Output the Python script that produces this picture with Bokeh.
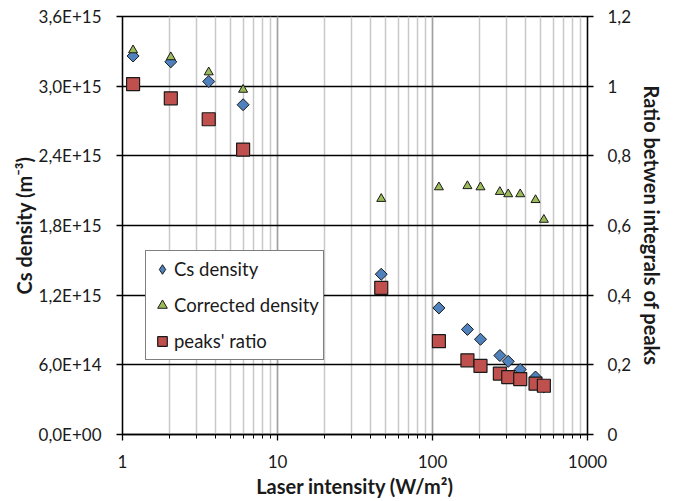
from bokeh.plotting import figure
from bokeh.models import (LinearAxis, Range1d, FixedTicker, LogTicker, Legend, LegendItem,
                          ColumnDataSource)
from bokeh.embed import file_html
from bokeh.resources import INLINE
import numpy as np

# ---- data ----
intensity = [1.17, 2.05, 3.6, 6.0, 46.7, 110, 168, 204, 272, 308, 368, 462, 523]
cs_density = [3.26e15, 3.21e15, 3.04e15, 2.84e15, 1.38e15, 1.09e15, 0.905e15, 0.82e15,
              0.68e15, 0.63e15, 0.56e15, 0.495e15, 0.41e15]
corrected_density = [3.31e15, 3.25e15, 3.12e15, 2.97e15, 2.03e15, 2.13e15, 2.14e15, 2.13e15,
                     2.09e15, 2.07e15, 2.07e15, 2.02e15, 1.85e15]
peaks_ratio = [1.006, 0.965, 0.905, 0.818, 0.421, 0.268, 0.213, 0.197, 0.175, 0.165,
               0.159, 0.146, 0.140]

left_ticks = [0, 0.6e15, 1.2e15, 1.8e15, 2.4e15, 3.0e15, 3.6e15]
left_labels = ["0,0E+00", "6,0E+14", "1,2E+15", "1,8E+15", "2,4E+15", "3,0E+15", "3,6E+15"]
right_ticks = [0, 0.2, 0.4, 0.6, 0.8, 1.0, 1.2]
right_labels = ["0", "0,2", "0,4", "0,6", "0,8", "1", "1,2"]
x_ticks = [1, 10, 100, 1000]
x_labels = ["1", "10", "100", "1000"]

FONT = "Lato"
TICK_FS = "17px"
TITLE_FS = "20px"
LEG_FS = "18.5px"
TXT = "#1a1a1a"

p = figure(width=669, height=500, x_axis_type="log", x_range=(1, 1000), y_range=(0, 3.6e15),
           output_backend="svg", toolbar_location=None,
           min_border_left=122, min_border_right=82, min_border_top=16, min_border_bottom=66)
p.extra_y_ranges = {"ratio": Range1d(0, 1.2)}
p.outline_line_color = "black"
p.outline_line_width = 1.3
p.background_fill_color = "white"
p.border_fill_color = "white"

# x axis
xa = p.xaxis[0]
xa.ticker = LogTicker(desired_num_ticks=3, num_minor_ticks=10)
xa.major_label_overrides = {t: l for t, l in zip(x_ticks, x_labels)}
xa.axis_label = "Laser intensity (W/m²)"

# left axis
ya = p.yaxis[0]
ya.ticker = FixedTicker(ticks=left_ticks)
ya.major_label_overrides = {t: l for t, l in zip(left_ticks, left_labels)}
ya.axis_label = "Cs density (m⁻³)"

# right axis
ra = LinearAxis(y_range_name="ratio", axis_label="Ratio betwen integrals of peaks")
ra.ticker = FixedTicker(ticks=right_ticks)
ra.major_label_overrides = {t: l for t, l in zip(right_ticks, right_labels)}
p.add_layout(ra, "right")

for ax in [xa, ya, ra]:
    ax.axis_line_color = "black"
    ax.axis_line_width = 1.3
    ax.major_tick_line_color = "black"
    ax.major_tick_line_width = 1.3
    ax.major_tick_in = 0
    ax.major_tick_out = 6
    ax.minor_tick_in = 0
    ax.minor_tick_out = 0
    ax.major_label_text_font = FONT
    ax.major_label_text_font_size = TICK_FS
    ax.major_label_text_color = TXT
    ax.axis_label_text_font = FONT
    ax.axis_label_text_font_size = TITLE_FS
    ax.axis_label_text_font_style = "bold"
    ax.axis_label_text_color = TXT
    ax.major_label_standoff = 14
xa.minor_tick_out = 4
xa.minor_tick_line_color = "black"
xa.axis_label_standoff = 3
ya.axis_label_standoff = 0
ya.major_label_standoff = 15
ra.axis_label_standoff = 6
ya.minor_tick_line_color = None
ra.minor_tick_line_color = None

# grids
p.xgrid.grid_line_color = "#a0a0a0"
p.xgrid.grid_line_width = 1.5
p.xgrid.minor_grid_line_color = "#c8c8c8"
p.xgrid.minor_grid_line_width = 1.5
p.ygrid.ticker = FixedTicker(ticks=left_ticks)
p.ygrid.grid_line_color = "black"
p.ygrid.grid_line_width = 1.3

# glyphs
src = ColumnDataSource(dict(x=intensity, cs=cs_density, cor=corrected_density, pr=peaks_ratio))
# legend proxy for Cs density (diamond shape); sits fully underneath the plotted markers
r1_leg = p.scatter("x", "cs", source=src, marker="diamond", size=10,
                   fill_color="#4f81bd", line_color="#1a1a1a", line_width=1)
r1 = p.scatter("x", "cs", source=src, marker="square", angle=np.pi / 4, size=8.5,
               fill_color="#4f81bd", line_color="#1a1a1a", line_width=1)
r2 = p.scatter("x", "cor", source=src, marker="triangle", size=9,
               fill_color="#9bbb59", line_color="#1a1a1a", line_width=1)
r3 = p.scatter("x", "pr", source=src, marker="square", size=13, y_range_name="ratio",
               fill_color="#c0504d", line_color="#1a1a1a", line_width=1.2)

legend = Legend(items=[LegendItem(label="Cs density", renderers=[r1_leg]),
                       LegendItem(label="Corrected density", renderers=[r2]),
                       LegendItem(label="peaks' ratio", renderers=[r3])],
                location=(23, 74))
legend.border_line_color = "black"
legend.border_line_width = 1.3
legend.background_fill_color = "white"
legend.background_fill_alpha = 1
legend.label_text_font = FONT
legend.label_text_font_size = LEG_FS
legend.label_text_color = TXT
legend.glyph_width = 24
legend.glyph_height = 28
legend.label_height = 24
legend.spacing = 8
legend.padding = 4
legend.margin = 0
legend.label_standoff = 0
p.add_layout(legend, "center")

open("out.html", "w").write(file_html(p, INLINE))
